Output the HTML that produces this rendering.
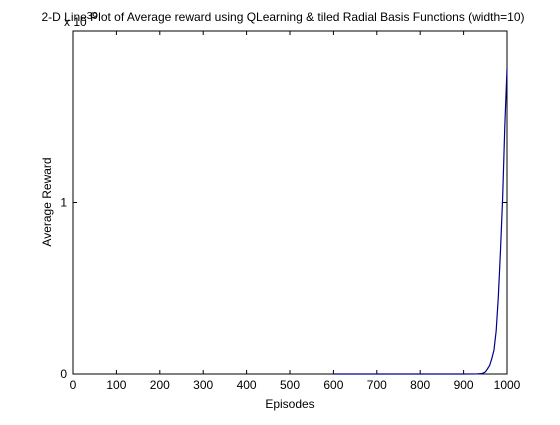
<!DOCTYPE html>
<html><head><meta charset="utf-8"><style>
body{margin:0;background:#fff;}
svg text{font-family:"Liberation Sans",Arial,sans-serif;font-size:12px;fill:#000;}
</style></head><body>
<svg width="560" height="420" xmlns="http://www.w3.org/2000/svg">
<rect x="0" y="0" width="560" height="420" fill="#fff"/>
<rect x="73" y="31" width="434" height="343" fill="#fff" stroke="#000" stroke-width="1"/>
<g id="ticks"></g>
<polyline id="curve" fill="none" stroke="#00008b" stroke-width="1.2"/>
<text x="283" y="21" text-anchor="middle">2-D Line Plot of Average reward using QLearning &amp; tiled Radial Basis Functions (width=10)</text>
<text x="64" y="26">x 10<tspan dy="-7" font-size="10">39</tspan></text>
<text x="290" y="408" text-anchor="middle">Episodes</text>
<text transform="translate(51,202) rotate(-90)" text-anchor="middle">Average Reward</text>
</svg>
<script>
const xTicks=[0,100,200,300,400,500,600,700,800,900,1000];
const yTicks=[0,1];
const yTickLabels=["0","1"];
const episodes=[600,700,800,900,930,940,945,950,955,960,965,970,975,980,985,990,995,1000];
const rewards=[0,0,0,0,0.0005,0.002,0.005,0.012,0.03,0.05,0.09,0.14,0.25,0.45,0.72,1.03,1.45,1.78];
const L=73,R=507,T=31,B=374;
function sx(v){return L+(v-0)/(1000-0)*(R-L);}
function sy(v){return B-(v-0)/(2-0)*(B-T);}
const ns="http://www.w3.org/2000/svg";
const g=document.getElementById('ticks');
xTicks.forEach(v=>{
  const x=sx(v);
  [[B,B-4],[T,T+4]].forEach(([a,b])=>{
    const l=document.createElementNS(ns,'line');
    l.setAttribute('x1',x);l.setAttribute('x2',x);l.setAttribute('y1',a);l.setAttribute('y2',b);
    l.setAttribute('stroke','#000');
    
    
    g.appendChild(l);
  });
  const t=document.createElementNS(ns,'text');
  t.setAttribute('x',x);t.setAttribute('y',B+15);t.setAttribute('text-anchor','middle');
  t.textContent=v;
  
  
  g.appendChild(t);
});
yTicks.forEach((v,i)=>{
  const y=sy(v);
  [[L,L+4],[R,R-4]].forEach(([a,b])=>{
    const l=document.createElementNS(ns,'line');
    l.setAttribute('x1',a);l.setAttribute('x2',b);l.setAttribute('y1',y);l.setAttribute('y2',y);
    l.setAttribute('stroke','#000');
    
    
    g.appendChild(l);
  });
  const t=document.createElementNS(ns,'text');
  t.setAttribute('x',L-6);t.setAttribute('y',y+4);t.setAttribute('text-anchor','end');
  t.textContent=yTickLabels[i];
  
  
  g.appendChild(t);
});
document.getElementById('curve').setAttribute('points',episodes.map((e,i)=>sx(e)+','+sy(rewards[i])).join(' '));
</script>
</body></html>
